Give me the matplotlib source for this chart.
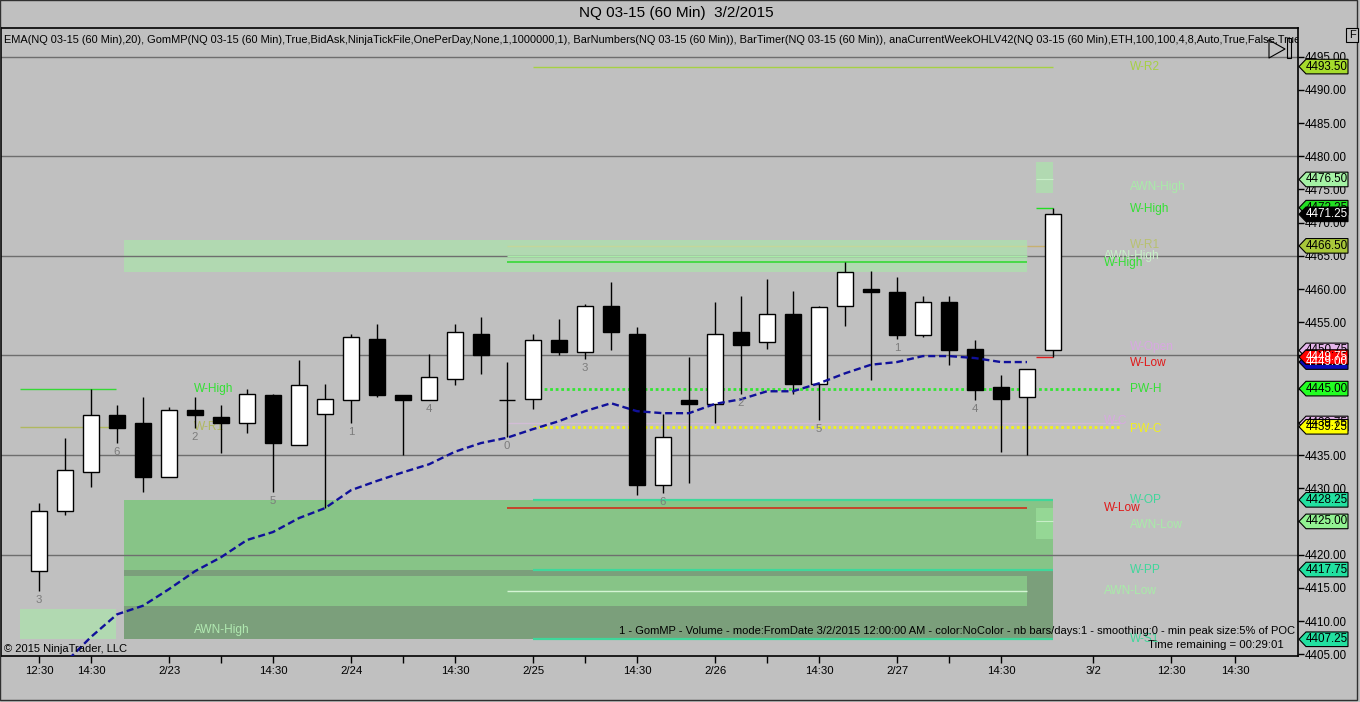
import matplotlib
matplotlib.use("Agg")
import matplotlib.pyplot as plt
from matplotlib.patches import Rectangle, Polygon
from matplotlib.lines import Line2D

plt.rcParams['font.family'] = ['Liberation Sans', 'DejaVu Sans']

# --- data ---
title = "NQ 03-15 (60 Min)  3/2/2015"
indicators = ("EMA(NQ 03-15 (60 Min),20), GomMP(NQ 03-15 (60 Min),True,BidAsk,NinjaTickFile,"
              "OnePerDay,None,1,1000000,1), BarNumbers(NQ 03-15 (60 Min)), BarTimer(NQ 03-15 (60 Min)), "
              "anaCurrentWeekOHLV42(NQ 03-15 (60 Min),ETH,100,100,4,8,Auto,True,False,True)")

opens = [4417.5, 4426.5, 4432.5, 4441.0, 4439.75, 4431.75, 4441.75, 4440.75, 4439.75, 4444.0,
         4436.5, 4441.25, 4443.25, 4452.5, 4444.0, 4443.25, 4446.5, 4453.25, 4443.25, 4443.5,
         4452.25, 4450.5, 4457.5, 4453.25, 4430.5, 4443.25, 4442.75, 4453.5, 4452.0, 4456.25,
         4445.75, 4457.5, 4460.0, 4459.5, 4453.0, 4458.0, 4451.0, 4445.25, 4443.75, 4450.75]
highs = [4427.75, 4437.5, 4445.0, 4442.5, 4443.75, 4442.25, 4443.75, 4442.5, 4445.0, 4444.25,
         4449.25, 4445.75, 4453.25, 4454.75, 4444.0, 4450.25, 4454.75, 4455.75, 4449.0, 4453.25,
         4455.5, 4457.75, 4461.0, 4454.25, 4441.25, 4449.75, 4458.0, 4459.0, 4461.5, 4459.75,
         4457.5, 4464.0, 4462.75, 4461.75, 4459.0, 4459.0, 4452.25, 4447.0, 4448.0, 4472.25]
lows = [4414.5, 4426.0, 4430.25, 4436.75, 4429.5, 4431.75, 4439.0, 4435.25, 4438.25, 4429.5,
        4436.5, 4427.0, 4439.75, 4443.75, 4435.0, 4443.25, 4445.5, 4447.25, 4437.75, 4442.0,
        4450.0, 4449.5, 4450.75, 4429.0, 4429.25, 4430.75, 4439.75, 4444.25, 4451.0, 4444.25,
        4440.25, 4454.5, 4446.25, 4452.5, 4452.75, 4448.5, 4443.25, 4435.5, 4435.0, 4449.75]
closes = [4426.5, 4432.75, 4441.0, 4439.0, 4431.75, 4441.75, 4441.0, 4439.75, 4444.25, 4436.75,
          4445.5, 4443.5, 4452.75, 4444.0, 4443.25, 4446.75, 4453.5, 4450.0, 4443.25, 4452.25,
          4450.5, 4457.5, 4453.5, 4430.5, 4437.75, 4442.75, 4453.25, 4451.5, 4456.25, 4445.75,
          4457.25, 4462.5, 4459.5, 4453.0, 4458.0, 4450.75, 4444.75, 4443.5, 4448.0, 4471.25]

ema20 = [4399.5, 4403.7, 4407.6, 4411.0, 4412.3, 4414.8, 4417.5, 4419.6, 4422.2, 4423.4,
         4425.5, 4427.0, 4429.7, 4431.1, 4432.4, 4433.6, 4435.5, 4436.8, 4437.6, 4438.9,
         4440.1, 4441.6, 4442.8, 4441.6, 4441.3, 4441.3, 4442.7, 4443.4, 4444.6, 4444.6,
         4445.8, 4447.3, 4448.6, 4449.0, 4449.9, 4449.9, 4449.6, 4449.0, 4449.0]

bar_num_idx = [0, 3, 6, 9, 12, 15, 18, 21, 24, 27, 30, 33, 36]
bar_num_txt = ["3", "6", "2", "5", "1", "4", "0", "3", "6", "2", "5", "1", "4"]

tick_pos = [0, 2, 5, 7, 9, 12, 14, 16, 19, 21, 23, 26, 28, 30, 33, 35, 37, 40.54, 43.54, 46]
tick_lbl = ["12:30", "14:30", "2/23", "", "14:30", "2/24", "", "14:30", "2/25", "", "14:30",
            "2/26", "", "14:30", "2/27", "", "14:30", "3/2", "12:30", "14:30"]

# week levels
w_r2, w_r1 = 4493.5, 4466.5
w_high, w_low, w_open = 4472.25, 4449.75, 4450.75
pw_h, pw_c, w_c = 4445.0, 4439.25, 4439.75
w_op, w_pp, w_s1 = 4428.25, 4417.75, 4407.25
awn_high, awn_low = 4476.5, 4425.0
prev_w_high, prev_awn_high, prev_w_low, prev_awn_low = 4464.0, 4465.0, 4427.0, 4414.5
last_price, ema_last = 4471.25, 4449.0

# --- pixel helpers (chart is laid out like the NinjaTrader screenshot) ---
W, H = 1360, 702
def px2i(x):
    return (x - 39) / 26.0
PPX = 1 / 6.64  # price per pixel

fig = plt.figure(figsize=(W / 100, H / 100), dpi=100, facecolor='#c0c0c0')
ax = fig.add_axes([1 / W, 1 - 656 / H, 1297 / W, 628 / H])
ax.set_facecolor('#c0c0c0')
ax.set_xlim(px2i(1), px2i(1298))
ax.set_ylim(4404.73, 4499.31)

# zones
zone_dark = '#7b9f7b'
zone_mid = '#87c487'
zone_light = '#b1d9b1'
ax.add_patch(Rectangle((px2i(124), w_pp), px2i(1053) - px2i(124), w_op - w_pp, color=zone_mid, lw=0, zorder=1))
ax.add_patch(Rectangle((px2i(124), w_s1), px2i(1053) - px2i(124), w_pp - w_s1, color=zone_dark, lw=0, zorder=1))
ax.add_patch(Rectangle((px2i(124), 4412.3), px2i(1027) - px2i(124), 4.5, color=zone_mid, lw=0, zorder=1))
ax.add_patch(Rectangle((px2i(20), 4407.25), px2i(116) - px2i(20), 4.5, color=zone_light, lw=0, zorder=1))
ax.add_patch(Rectangle((px2i(124), 4462.6), px2i(1027) - px2i(124), 4.8, color=zone_light, lw=0, zorder=1))
ax.add_patch(Rectangle((px2i(1036), awn_high - 2.0), px2i(1053) - px2i(1036), 4.6, color=zone_light, lw=0, zorder=1))
ax.add_patch(Rectangle((px2i(1036), awn_low - 2.6), px2i(1053) - px2i(1036), 4.6, color='#95d795', lw=0, zorder=1))
ax.hlines(awn_high, px2i(1036), px2i(1053), color='#c8eec8', lw=0.8, zorder=2)
ax.hlines(awn_low, px2i(1036), px2i(1053), color='#c8eec8', lw=0.8, zorder=2)

# grid lines every 15 points
for g in range(4420, 4500, 15):
    ax.axhline(g, color='#6e6e6e', lw=1.0, zorder=2)

# level lines
teal = '#3fd79b'
for lv in (w_op, w_pp, w_s1):
    ax.hlines(lv, px2i(533), px2i(1053), color=teal, lw=1.6, zorder=3)
ax.hlines(w_r2, px2i(533), px2i(1053), color='#a6d044', lw=1.0, zorder=3)
ax.hlines(prev_w_low, px2i(507), px2i(1027), color='#d0301c', lw=1.2, zorder=3)
ax.hlines(prev_awn_low, px2i(507), px2i(1027), color='#d4f4d4', lw=1.0, zorder=3)
ax.hlines(w_r1, px2i(507), px2i(1027), color='#c4d69a', lw=1.0, zorder=3)
ax.hlines(prev_awn_high, px2i(507), px2i(1027), color='#a8eca8', lw=1.0, zorder=3)
ax.hlines(prev_w_high, px2i(507), px2i(1027), color='#36d836', lw=1.2, zorder=3)
ax.hlines(pw_h, px2i(20), px2i(116), color='#36d836', lw=1.0, zorder=3)
ax.hlines(pw_c, px2i(20), px2i(116), color='#b0b860', lw=1.0, zorder=3)
ax.hlines(w_c, px2i(507), px2i(1120), color='#d2bcd6', lw=1.0, zorder=3)
ax.hlines(pw_h, px2i(533), px2i(1120), color='#33e633', lw=2.0, ls=(0, (1, 1)), zorder=3)
ax.hlines(pw_c, px2i(533), px2i(1120), color='#f2f21a', lw=2.0, ls=(0, (1, 1)), zorder=3)
ax.hlines(w_high, px2i(1036), px2i(1053), color='#22dd22', lw=1.0, zorder=3)
ax.hlines(w_r1, px2i(1027), px2i(1047), color='#c8b070', lw=1.0, zorder=3)
ax.hlines(w_low, px2i(1036), px2i(1053), color='#e02020', lw=1.0, zorder=3)

# candles
bw = 16 / 26.0
for i, (o, h, l, c) in enumerate(zip(opens, highs, lows, closes)):
    ax.vlines(i, l, h, color='black', lw=1.0, zorder=5)
    fc = 'white' if c > o else 'black'
    if c == o:
        ax.hlines(o, i - bw / 2, i + bw / 2, color='black', lw=1.0, zorder=6)
    else:
        ax.add_patch(Rectangle((i - bw / 2, min(o, c)), bw, abs(c - o), facecolor=fc,
                               edgecolor='black', lw=1.0, zorder=6))

# EMA
ax.plot(range(len(ema20)), ema20, color='#10109a', lw=1.7, ls=(0, (3, 1.6)), zorder=7)

# bar numbers
for i, t in zip(bar_num_idx, bar_num_txt):
    ax.text(i, lows[i] - 0.6, t, color='#7c7c7c', fontsize=8.2, ha='center', va='top', zorder=8)

# level labels
labels = [
    ("W-R2", w_r2, 1130, '#a6d044'),
    ("AWN-High", awn_high - 1.1, 1130, '#a8eca8'),
    ("W-High", w_high - 0.25, 1130, '#33e033'),
    ("W-R1", w_r1 + 0.1, 1130, '#b8c070'),
    ("AWN-High", prev_awn_high - 0.1, 1104, '#c8f2c8'),
    ("W-High", prev_w_high - 0.1, 1104, '#33e033'),
    ("W-Open", w_open + 0.5, 1130, '#d8a8e2'),
    ("W-Low", w_low - 0.9, 1130, '#e01818'),
    ("PW-H", pw_h, 1130, '#33e033'),
    ("W-C", w_c + 0.3, 1104, '#d8a8e2'),
    ("PW-C", pw_c - 0.3, 1130, '#f0f020'),
    ("W-OP", w_op, 1130, teal),
    ("W-Low", prev_w_low, 1104, '#e01818'),
    ("AWN-Low", awn_low - 0.5, 1130, '#a8eca8'),
    ("W-PP", w_pp, 1130, teal),
    ("AWN-Low", prev_awn_low, 1104, '#a8eca8'),
    ("W-S1", w_s1, 1130, teal),
    ("W-High", pw_h, 194, '#33e033'),
    ("W-R1", pw_c, 194, '#b0b860'),
    ("AWN-High", 4408.6, 194, '#b1e9b1'),
]
for txt, y, xpx, col in labels:
    ax.text(px2i(xpx), y, txt, color=col, fontsize=8.6, ha='left', va='center', zorder=4)

# right axis
ax.yaxis.tick_right()
ax.set_yticks(range(4405, 4500, 5))
ax.set_yticklabels([f"{v:.2f}" for v in range(4405, 4500, 5)])
ax.tick_params(axis='y', direction='out', length=4, width=1, labelsize=8.3, pad=1, colors='black')
ax.set_xticks(tick_pos)
ax.set_xticklabels(tick_lbl)
ax.tick_params(axis='x', direction='out', length=5, width=1, labelsize=8.2, pad=2)
for s in ax.spines.values():
    s.set_color('black')
    s.set_linewidth(1.2)

# price tags on the right axis
def tag(price, fc, tc='black'):
    h = 7.3 * PPX
    xt, xl, xr = px2i(1299), px2i(1306), px2i(1348)
    ax.add_patch(Polygon([(xt, price), (xl, price + h), (xr, price + h), (xr, price - h), (xl, price - h)],
                         closed=True, facecolor=fc, edgecolor='black', lw=0.8, clip_on=False, zorder=10))
    ax.text(px2i(1327), price, f"{price:.2f}", color=tc, fontsize=8.4, ha='center', va='center',
            clip_on=False, zorder=11)

tag(w_r2, '#a6dc2c')
tag(awn_high, '#a4f2a4')
tag(w_high, '#22e022')
tag(last_price, 'black', 'white')
tag(w_r1, '#a8c83a')
tag(w_open, '#e4b4ea')
tag(ema_last, '#0a0ab8', 'white')
tag(w_low, '#ff0000', 'white')
tag(pw_h, '#22ff22')
tag(w_c, '#e4b4ea')
tag(pw_c, '#ffff00')
tag(w_op, '#22e0a0')
tag(awn_low, '#92f292')
tag(w_pp, '#22e0a0')
tag(w_s1, '#22e0a0')

# texts
fig.text(676 / W, 1 - 13 / H, title, ha='center', va='center', fontsize=11)
ax.text(3 / 1297, (628 - 12) / 628, indicators, transform=ax.transAxes, fontsize=7.9,
        ha='left', va='center', clip_on=True, zorder=12)
ax.text(1294 / 1297, (656 - 631) / 628,
        "1 - GomMP - Volume - mode:FromDate 3/2/2015 12:00:00 AM - color:NoColor - nb bars/days:1 - "
        "smoothing:0 - min peak size:5% of POC",
        transform=ax.transAxes, fontsize=8.0, ha='right', va='center', zorder=12)
ax.text(1283 / 1297, (656 - 645) / 628, "Time remaining = 00:29:01", transform=ax.transAxes,
        fontsize=8.2, ha='right', va='center', zorder=12)
ax.text(3 / 1297, (656 - 649) / 628, "\u00a9 2015 NinjaTrader, LLC", transform=ax.transAxes,
        fontsize=8.0, ha='left', va='center', zorder=12)

# small chart controls in the corner
def fpx(x, y):
    return x / W, 1 - y / H
tri = [fpx(1269, 40), fpx(1269, 58), fpx(1285, 49), fpx(1269, 40)]
fig.add_artist(Line2D([p[0] for p in tri], [p[1] for p in tri], color='black', lw=0.8))
x0, y0 = fpx(1287, 38)
x1, y1 = fpx(1291, 58)
fig.add_artist(Rectangle((x0, y1), x1 - x0, y0 - y1, transform=fig.transFigure, fill=False,
                         edgecolor='black', lw=0.8))
fig.text(1352 / W, 1 - 35 / H, "F", fontsize=8, ha='center', va='center',
         bbox=dict(boxstyle='square,pad=0.2', facecolor='#c0c0c0', edgecolor='black', lw=0.8))
fig.add_artist(Rectangle((0, 2 / H), 1357 / W, 1 - 2 / H, transform=fig.transFigure, fill=False,
                         edgecolor='#303030', lw=1.0))

fig.savefig("out.png", dpi=100, facecolor=fig.get_facecolor())
